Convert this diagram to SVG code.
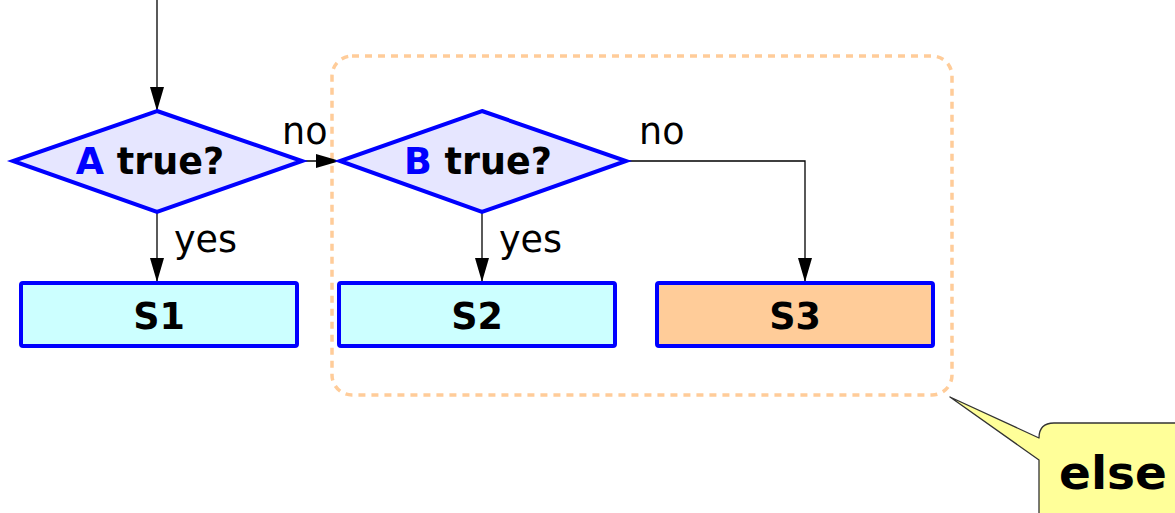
<svg xmlns="http://www.w3.org/2000/svg" width="1175" height="513" viewBox="0 0 1175 513">
<style>
.dia{fill:#E6E6FF;stroke:#0000FF;stroke-width:4;stroke-linejoin:miter}
.box{stroke:#0000FF;stroke-width:4;stroke-linejoin:round}
.t{font-family:"DejaVu Sans",Verdana,sans-serif;font-size:36.5px;font-weight:bold;fill:#000;text-anchor:middle}
.lbl{font-family:"DejaVu Sans",Verdana,sans-serif;font-size:36.5px;fill:#000}
.blue{fill:#0000FF}
.edge{fill:none;stroke:#000;stroke-width:1.3}
</style>
<defs>
<marker id="ah" viewBox="0 0 24 14" refX="24" refY="7" markerWidth="24" markerHeight="14" markerUnits="userSpaceOnUse" orient="auto">
<path d="M0,0 L24,7 L0,14 Z" fill="#000"/>
</marker>
</defs>
<rect x="0" y="0" width="1175" height="513" fill="#fff"/>
<g id="else-group">
<rect x="332" y="56" width="620" height="339" rx="20" fill="none" stroke="#FFCC99" stroke-width="3.5" stroke-dasharray="7,6"/>
</g>
<g id="connectors">
<path class="edge" d="M157,0 L157,111" marker-end="url(#ah)"/>
<path class="edge" d="M302,161 L340,161" marker-end="url(#ah)"/>
<path class="edge" d="M157,212 L157,282" marker-end="url(#ah)"/>
<path class="edge" d="M482,212 L482,282" marker-end="url(#ah)"/>
<path class="edge" d="M626,161 L805,161 L805,282" marker-end="url(#ah)"/>
<text class="lbl" x="282" y="144">no</text>
<text class="lbl" x="639" y="144">no</text>
<text class="lbl" x="174" y="252">yes</text>
<text class="lbl" x="499" y="252">yes</text>
</g>
<g id="A">
<polygon class="dia" points="157,111 302,161 157,212 13,161"/>
<text class="t" x="150" y="174"><tspan class="blue">A</tspan> true?</text>
</g>
<g id="B">
<polygon class="dia" points="482,111 626,161 482,212 340,161"/>
<text class="t" x="478" y="174"><tspan class="blue">B</tspan> true?</text>
</g>
<g id="S1">
<rect class="box" x="21" y="283" width="276" height="63" rx="2" fill="#CCFFFF"/>
<text class="t" x="159" y="329">S1</text>
</g>
<g id="S2">
<rect class="box" x="339" y="283" width="276" height="63" rx="2" fill="#CCFFFF"/>
<text class="t" x="477" y="329">S2</text>
</g>
<g id="S3">
<rect class="box" x="657" y="283" width="276" height="63" rx="2" fill="#FFCC99"/>
<text class="t" x="795" y="329">S3</text>
</g>
<g id="callout">
<path d="M1039,438 Q1039,423 1054,423 L1190,423 L1190,530 L1054,530 Q1039,530 1039,515 L1039,460 L950,397 Z" fill="#FFFF99" stroke="#333" stroke-width="1.3" stroke-linejoin="round"/>
<text class="t" x="1113" y="489" style="font-size:47px">else</text>
</g>
</svg>
